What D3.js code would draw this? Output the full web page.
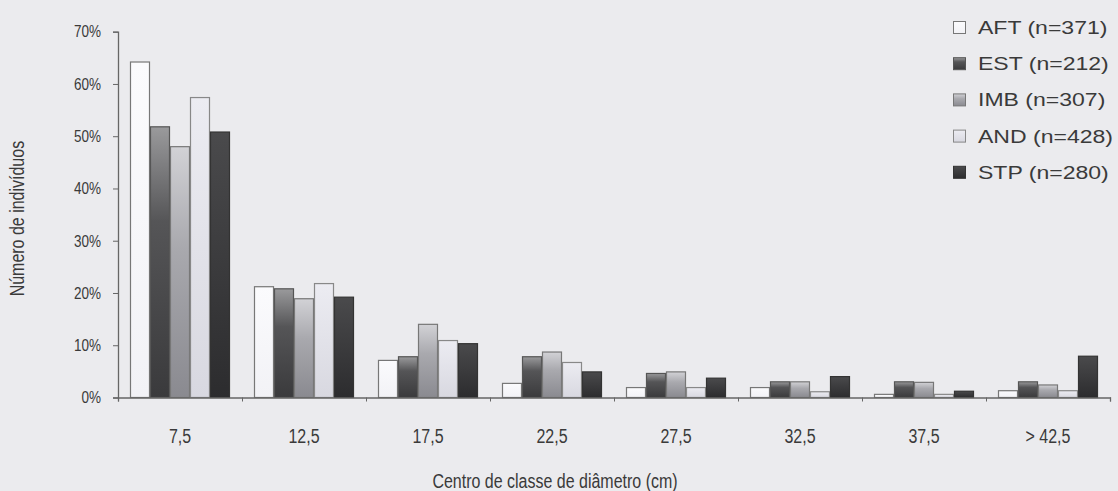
<!DOCTYPE html>
<html>
<head>
<meta charset="utf-8">
<script src="https://cdn.jsdelivr.net/npm/d3@7"></script>
<style>
  html, body { margin: 0; padding: 0; background: #ebebee; }
  svg { display: block; font-family: "Liberation Sans", Arial, sans-serif; }
</style>
</head>
<body>
<svg id="chart" width="1118" height="491"></svg>
<script>
const categories = ["7,5", "12,5", "17,5", "22,5", "27,5", "32,5", "37,5", "> 42,5"];
const seriesNames = ["AFT (n=371)", "EST (n=212)", "IMB (n=307)", "AND (n=428)", "STP (n=280)"];
const AFT = [64.2, 21.2, 7.1, 2.7, 1.9, 1.9, 0.6, 1.3];
const EST = [51.8, 20.8, 7.8, 7.8, 4.6, 3.0, 3.0, 3.0];
const IMB = [48.0, 18.9, 14.0, 8.7, 4.9, 3.0, 2.9, 2.4];
const AND = [57.4, 21.8, 10.9, 6.7, 1.9, 1.1, 0.6, 1.3];
const STP = [50.8, 19.2, 10.3, 4.9, 3.7, 4.0, 1.2, 7.9];
const yTicks = [0, 10, 20, 30, 40, 50, 60, 70];

(function () {
const seriesValues = [AFT, EST, IMB, AND, STP];
const svg = d3.select("#chart");

// gradients
const defs = svg.append("defs");
const grads = [
  {id: "gAFT", stops: [["0", "#fbfbfd"], ["1", "#f2f2f6"]]},
  {id: "gEST", stops: [["0", "#9a9a9c"], ["0.35", "#555557"], ["1", "#3a3a3c"]]},
  {id: "gIMB", stops: [["0", "#d2d2d6"], ["0.4", "#a9a9ae"], ["1", "#8a8a90"]]},
  {id: "gAND", stops: [["0", "#ececf2"], ["1", "#d8d8e0"]]},
  {id: "gSTP", stops: [["0", "#4a4a4c"], ["1", "#2c2c2e"]]}
];
grads.forEach(g => {
  const lg = defs.append("linearGradient").attr("id", g.id)
    .attr("x1", 0).attr("y1", 0).attr("x2", 0).attr("y2", 1);
  g.stops.forEach(s => lg.append("stop").attr("offset", s[0]).attr("stop-color", s[1]));
});
const strokes = ["#777", "#555", "#777", "#888", "#333"];
const textColor = "#3a3a3a";
const SX = 0.82; // condensed look of the axis text

const mLeft = 118, mRight = 1110, mTop = 31.7, mBottom = 397.5;
const x0 = d3.scaleBand().domain(categories).range([mLeft, mRight]).paddingInner(0).paddingOuter(0);
const x1 = d3.scaleBand().domain(d3.range(seriesNames.length)).range([12, x0.bandwidth() - 12]).padding(0);
const y = d3.scaleLinear().domain([0, 70]).range([mBottom, mTop]);

// bars
const groups = svg.append("g").selectAll("g").data(categories).join("g")
  .attr("transform", c => `translate(${x0(c)},0)`);
groups.selectAll("rect")
  .data((c, ci) => seriesValues.map((vals, si) => ({si, v: vals[ci]})))
  .join("rect")
  .attr("x", d => x1(d.si) + 0.5)
  .attr("width", x1.bandwidth() - 1)
  .attr("y", d => y(d.v))
  .attr("height", d => mBottom - y(d.v))
  .attr("fill", d => `url(#${grads[d.si].id})`)
  .attr("stroke", d => strokes[d.si])
  .attr("stroke-width", 1.2);

// y axis
const yAxis = d3.axisLeft(y).tickValues(yTicks).tickSize(5).tickFormat(d => d + "%");
const yg = svg.append("g").attr("transform", `translate(${mLeft},0)`).call(yAxis);
yg.select(".domain").attr("stroke", "#666").attr("stroke-width", 1.3);
yg.selectAll(".tick line").attr("stroke", "#666");
yg.selectAll(".tick text").attr("font-size", 16.5).attr("fill", textColor)
  .attr("x", -17 / SX).attr("transform", `scale(${SX},1)`);

// x axis line + boundary ticks
const xb = d3.scaleLinear().domain([0, categories.length]).range([mLeft, mRight]);
const xAxisTicks = d3.axisBottom(xb).ticks(categories.length).tickSize(4).tickFormat("");
const xg = svg.append("g").attr("transform", `translate(0,${mBottom})`).call(xAxisTicks);
xg.select(".domain").attr("stroke", "#666").attr("stroke-width", 1.3);
xg.selectAll(".tick line").attr("stroke", "#666");

// x category labels
const xl = svg.append("g").attr("transform", `translate(0,${mBottom})`)
  .call(d3.axisBottom(x0).tickSize(0).tickPadding(32));
xl.select(".domain").remove();
xl.selectAll(".tick text").attr("font-size", 19.5).attr("fill", textColor)
  .attr("transform", `scale(${SX},1)`);

// axis titles
svg.append("text")
  .attr("transform", `translate(24,${(mTop + mBottom) / 2 + 4}) rotate(-90) scale(${SX},1)`)
  .attr("text-anchor", "middle").attr("font-size", 19.5).attr("fill", textColor)
  .text("Número de indivíduos");
svg.append("text")
  .attr("transform", `translate(555,488) scale(${SX},1)`)
  .attr("text-anchor", "middle").attr("font-size", 19.5).attr("fill", textColor)
  .text("Centro de classe de diâmetro (cm)");

// legend
const LSX = 1.28;
const legend = svg.append("g").attr("class", "legend").attr("transform", "translate(953,21)");
const li = legend.selectAll("g").data(seriesNames).join("g")
  .attr("transform", (d, i) => `translate(0,${i * 36.2})`);
li.append("rect").attr("x", 0.5).attr("y", 0.5).attr("width", 12).attr("height", 12)
  .attr("fill", (d, i) => `url(#${grads[i].id})`)
  .attr("stroke", (d, i) => strokes[i]).attr("stroke-width", 1);
li.append("text").attr("transform", `translate(25,13) scale(${LSX},1)`)
  .attr("font-size", 18).attr("fill", textColor).text(d => d);
})();
</script>
</body>
</html>
